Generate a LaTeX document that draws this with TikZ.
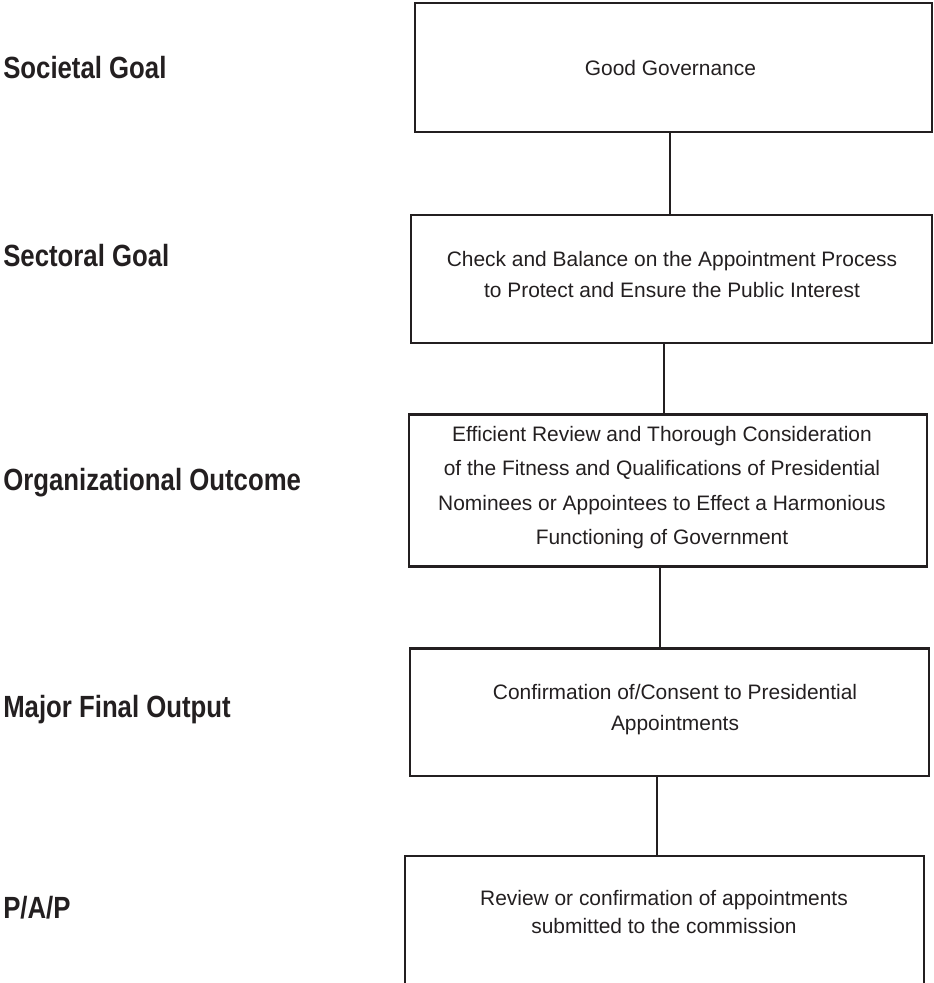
\documentclass[tikz,border=0pt]{standalone}
\usepackage{fontspec}
\setmainfont{Liberation Sans}
\newfontfamily\tierfont[FakeStretch=0.84]{Liberation Sans}
\usetikzlibrary{calc}
\definecolor{ink}{RGB}{35,31,32}

\begin{document}
\begin{tikzpicture}[x=0.75pt, y=-0.75pt,
    box/.style={draw=ink, line width=1.9pt, rectangle, inner sep=0pt},
    boxtext/.style={font=\fontsize{15.7}{#1}\selectfont, text=ink, align=center, anchor=north, inner sep=0pt},
    boxtext/.default=23.6pt,
    tier/.style={font=\tierfont\bfseries\fontsize{23}{27}\selectfont, text=ink, anchor=base west, inner sep=0pt},
    link/.style={draw=ink, line width=2pt}]
    % Cadre de la page
    \useasboundingbox (0,0) rectangle (933,983);
    \clip (0,0) rectangle (933,983);

    % Boites de la chaine
    \node[box, minimum width=387.75pt, minimum height=96.75pt] (gov) at (673.5,67.5) {};
    \node[box, minimum width=390.75pt, minimum height=96pt] (sect) at (671.5,279) {};
    \node[box, minimum width=388.5pt, minimum height=114pt] (org) at (668,490.5) {};
    \node[box, minimum width=389.25pt, minimum height=95.6pt] (mfo) at (669.5,712.25) {};
    \node[box, minimum width=389.25pt, minimum height=105pt] (pap) at (664.5,926) {};

    % Textes des boites
    \node[boxtext] (govtxt) at (670.4,60) {Good Governance};
    \node[boxtext] (secttxt) at (672,250.6) {Check and Balance on the Appointment Process\\to Protect and Ensure the Public Interest};
    \node[boxtext=25.9pt] (orgtxt) at (662,425.6) {Efficient Review and Thorough Consideration\\of the Fitness and Qualifications of Presidential\\Nominees or Appointees to Effect a Harmonious\\Functioning of Government};
    \node[boxtext=23.5pt] (mfotxt) at (675,684.2) {Confirmation of/Consent to Presidential\\Appointments};
    \node[boxtext=21.1pt] (paptxt) at (664,889.6) {Review or confirmation of appointments\\submitted to the commission};

    % Etiquettes des niveaux
    \node[tier] (lsoc) at (3,78.3) {Societal Goal};
    \node[tier] (lsect) at (3,266.7) {Sectoral Goal};
    \node[tier] (lorg) at (3,490) {Organizational Outcome};
    \node[tier] (lmfo) at (3,717.3) {Major Final Output};
    \node[tier] (lpap) at (3,918.3) {P/A/P};

    % Traits de liaison
    \coordinate (j1) at (670,0);
    \coordinate (j2) at (664,0);
    \coordinate (j3) at (660,0);
    \coordinate (j4) at (657,0);
    \draw[link] (gov.south -| j1) -- (sect.north -| j1);
    \draw[link] (sect.south -| j2) -- (org.north -| j2);
    \draw[link] (org.south -| j3) -- (mfo.north -| j3);
    \draw[link] (mfo.south -| j4) -- (pap.north -| j4);
\end{tikzpicture}
\end{document}
